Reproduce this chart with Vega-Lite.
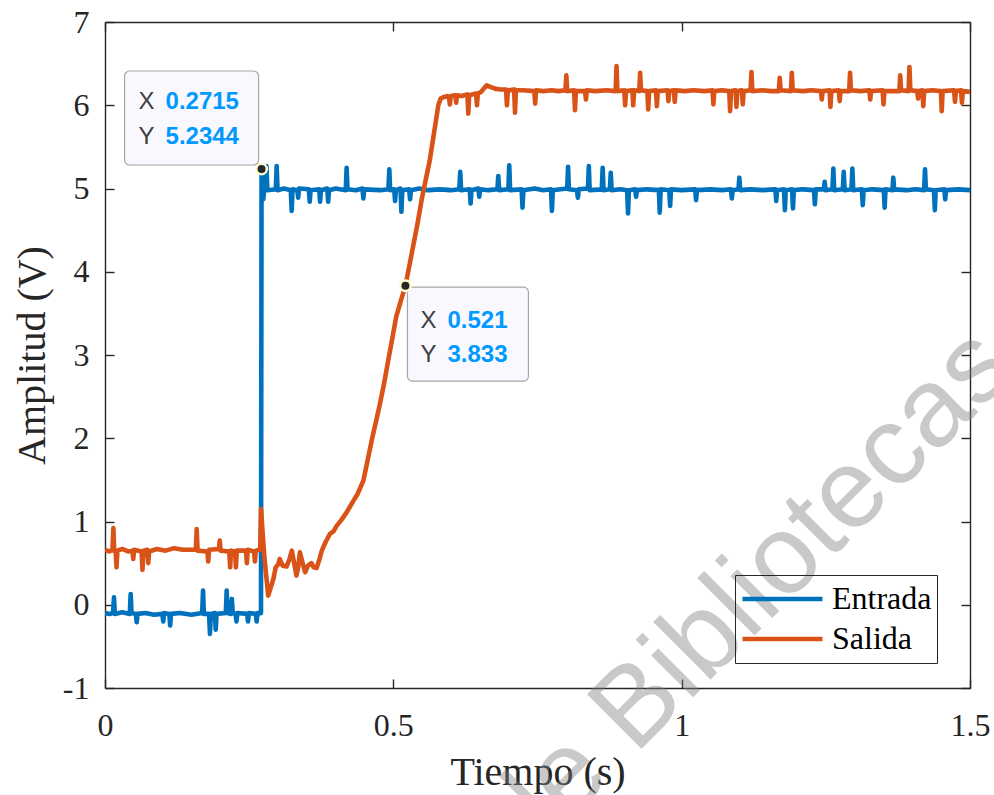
{
  "$schema": "https://vega.github.io/schema/vega-lite/v6.json",
  "width": 865,
  "height": 666,
  "autosize": "none",
  "padding": {"left": 105, "top": 22, "right": 24, "bottom": 107},
  "background": "white",
  "config": {
    "view": {"stroke": null},
    "axis": {
      "grid": false,
      "domainColor": "#262626",
      "domainWidth": 1.4,
      "tickColor": "#262626",
      "tickWidth": 1.4,
      "tickSize": -9,
      "labelFont": "Liberation Serif",
      "labelFontSize": 32,
      "labelColor": "#262626",
      "titleFont": "Liberation Serif",
      "titleFontSize": 40,
      "titleFontWeight": "normal",
      "titleColor": "#262626"
    }
  },
  "datasets": {
    "signals": [
      {"serie":"Entrada","t":0.000,"v":-0.10},{"serie":"Entrada","t":0.008,"v":-0.11},{"serie":"Entrada","t":0.014,"v":-0.10},{"serie":"Entrada","t":0.0156,"v":0.09},{"serie":"Entrada","t":0.017,"v":-0.11},
      {"serie":"Entrada","t":0.030,"v":-0.09},{"serie":"Entrada","t":0.043,"v":-0.11},{"serie":"Entrada","t":0.0445,"v":0.13},{"serie":"Entrada","t":0.046,"v":-0.10},{"serie":"Entrada","t":0.0535,"v":-0.11},
      {"serie":"Entrada","t":0.055,"v":-0.21},{"serie":"Entrada","t":0.0565,"v":-0.11},{"serie":"Entrada","t":0.070,"v":-0.10},{"serie":"Entrada","t":0.085,"v":-0.12},{"serie":"Entrada","t":0.0995,"v":-0.11},
      {"serie":"Entrada","t":0.101,"v":-0.20},{"serie":"Entrada","t":0.1025,"v":-0.10},{"serie":"Entrada","t":0.1115,"v":-0.11},{"serie":"Entrada","t":0.113,"v":-0.25},{"serie":"Entrada","t":0.1145,"v":-0.11},
      {"serie":"Entrada","t":0.130,"v":-0.10},{"serie":"Entrada","t":0.150,"v":-0.12},{"serie":"Entrada","t":0.1685,"v":-0.10},{"serie":"Entrada","t":0.170,"v":0.17},{"serie":"Entrada","t":0.1715,"v":-0.11},
      {"serie":"Entrada","t":0.1805,"v":-0.11},{"serie":"Entrada","t":0.182,"v":-0.35},{"serie":"Entrada","t":0.1835,"v":-0.11},{"serie":"Entrada","t":0.1905,"v":-0.10},{"serie":"Entrada","t":0.192,"v":-0.30},
      {"serie":"Entrada","t":0.1935,"v":-0.11},{"serie":"Entrada","t":0.2095,"v":-0.10},{"serie":"Entrada","t":0.211,"v":0.17},{"serie":"Entrada","t":0.2125,"v":-0.10},{"serie":"Entrada","t":0.2185,"v":-0.11},
      {"serie":"Entrada","t":0.220,"v":0.07},{"serie":"Entrada","t":0.2215,"v":-0.10},{"serie":"Entrada","t":0.2265,"v":-0.11},{"serie":"Entrada","t":0.228,"v":-0.20},{"serie":"Entrada","t":0.2295,"v":-0.10},
      {"serie":"Entrada","t":0.2465,"v":-0.11},{"serie":"Entrada","t":0.248,"v":-0.20},{"serie":"Entrada","t":0.2495,"v":-0.10},{"serie":"Entrada","t":0.2615,"v":-0.11},{"serie":"Entrada","t":0.263,"v":-0.20},
      {"serie":"Entrada","t":0.2645,"v":-0.10},{"serie":"Entrada","t":0.2705,"v":-0.10},{"serie":"Entrada","t":0.2715,"v":5.2344},{"serie":"Entrada","t":0.273,"v":4.99},{"serie":"Entrada","t":0.2745,"v":4.87},
      {"serie":"Entrada","t":0.276,"v":4.99},{"serie":"Entrada","t":0.2785,"v":5.00},{"serie":"Entrada","t":0.280,"v":5.27},{"serie":"Entrada","t":0.2815,"v":4.98},{"serie":"Entrada","t":0.2962,"v":4.99},
      {"serie":"Entrada","t":0.2977,"v":5.27},{"serie":"Entrada","t":0.2992,"v":4.98},{"serie":"Entrada","t":0.310,"v":5.00},{"serie":"Entrada","t":0.3222,"v":4.98},{"serie":"Entrada","t":0.3237,"v":4.73},
      {"serie":"Entrada","t":0.3252,"v":4.99},{"serie":"Entrada","t":0.3335,"v":4.98},{"serie":"Entrada","t":0.335,"v":4.89},{"serie":"Entrada","t":0.3365,"v":5.00},{"serie":"Entrada","t":0.3535,"v":4.99},
      {"serie":"Entrada","t":0.355,"v":4.84},{"serie":"Entrada","t":0.3565,"v":4.98},{"serie":"Entrada","t":0.3715,"v":4.99},{"serie":"Entrada","t":0.373,"v":4.84},{"serie":"Entrada","t":0.3745,"v":4.98},
      {"serie":"Entrada","t":0.3855,"v":5.00},{"serie":"Entrada","t":0.387,"v":4.84},{"serie":"Entrada","t":0.3885,"v":4.98},{"serie":"Entrada","t":0.400,"v":5.00},{"serie":"Entrada","t":0.4175,"v":4.98},
      {"serie":"Entrada","t":0.419,"v":5.25},{"serie":"Entrada","t":0.4205,"v":4.99},{"serie":"Entrada","t":0.435,"v":4.98},{"serie":"Entrada","t":0.4465,"v":5.00},{"serie":"Entrada","t":0.448,"v":4.88},
      {"serie":"Entrada","t":0.4495,"v":4.99},{"serie":"Entrada","t":0.4775,"v":4.98},{"serie":"Entrada","t":0.4915,"v":4.99},{"serie":"Entrada","t":0.493,"v":5.23},{"serie":"Entrada","t":0.4945,"v":4.98},
      {"serie":"Entrada","t":0.5015,"v":4.99},{"serie":"Entrada","t":0.503,"v":4.85},{"serie":"Entrada","t":0.5045,"v":4.98},{"serie":"Entrada","t":0.5125,"v":5.00},{"serie":"Entrada","t":0.514,"v":4.72},
      {"serie":"Entrada","t":0.5155,"v":4.98},{"serie":"Entrada","t":0.5275,"v":4.99},{"serie":"Entrada","t":0.529,"v":4.87},{"serie":"Entrada","t":0.5305,"v":4.98},{"serie":"Entrada","t":0.545,"v":5.00},
      {"serie":"Entrada","t":0.560,"v":4.98},{"serie":"Entrada","t":0.580,"v":4.99},{"serie":"Entrada","t":0.600,"v":4.98},{"serie":"Entrada","t":0.6145,"v":4.99},{"serie":"Entrada","t":0.616,"v":5.20},
      {"serie":"Entrada","t":0.6175,"v":4.98},{"serie":"Entrada","t":0.6325,"v":4.99},{"serie":"Entrada","t":0.634,"v":4.82},{"serie":"Entrada","t":0.6355,"v":4.98},{"serie":"Entrada","t":0.6475,"v":5.00},
      {"serie":"Entrada","t":0.649,"v":4.90},{"serie":"Entrada","t":0.6505,"v":4.99},{"serie":"Entrada","t":0.665,"v":4.98},{"serie":"Entrada","t":0.6805,"v":4.99},{"serie":"Entrada","t":0.682,"v":5.15},
      {"serie":"Entrada","t":0.6835,"v":4.98},{"serie":"Entrada","t":0.6995,"v":4.99},{"serie":"Entrada","t":0.701,"v":5.28},{"serie":"Entrada","t":0.7025,"v":4.98},{"serie":"Entrada","t":0.7225,"v":4.99},
      {"serie":"Entrada","t":0.724,"v":4.77},{"serie":"Entrada","t":0.7255,"v":4.98},{"serie":"Entrada","t":0.745,"v":5.00},{"serie":"Entrada","t":0.760,"v":4.98},{"serie":"Entrada","t":0.7735,"v":4.99},
      {"serie":"Entrada","t":0.775,"v":4.73},{"serie":"Entrada","t":0.7765,"v":4.98},{"serie":"Entrada","t":0.790,"v":4.99},{"serie":"Entrada","t":0.8015,"v":5.00},{"serie":"Entrada","t":0.803,"v":5.26},
      {"serie":"Entrada","t":0.8045,"v":4.99},{"serie":"Entrada","t":0.8185,"v":4.98},{"serie":"Entrada","t":0.820,"v":4.89},{"serie":"Entrada","t":0.8215,"v":4.99},{"serie":"Entrada","t":0.8375,"v":5.00},
      {"serie":"Entrada","t":0.839,"v":5.27},{"serie":"Entrada","t":0.8405,"v":4.98},{"serie":"Entrada","t":0.8615,"v":4.99},{"serie":"Entrada","t":0.863,"v":5.25},{"serie":"Entrada","t":0.8645,"v":4.98},
      {"serie":"Entrada","t":0.8755,"v":4.99},{"serie":"Entrada","t":0.877,"v":5.19},{"serie":"Entrada","t":0.8785,"v":4.98},{"serie":"Entrada","t":0.8935,"v":4.99},{"serie":"Entrada","t":0.9055,"v":4.98},
      {"serie":"Entrada","t":0.907,"v":4.70},{"serie":"Entrada","t":0.9085,"v":4.98},{"serie":"Entrada","t":0.9195,"v":4.99},{"serie":"Entrada","t":0.921,"v":4.90},{"serie":"Entrada","t":0.9225,"v":4.98},
      {"serie":"Entrada","t":0.940,"v":4.99},{"serie":"Entrada","t":0.9605,"v":4.98},{"serie":"Entrada","t":0.962,"v":4.71},{"serie":"Entrada","t":0.9635,"v":4.99},{"serie":"Entrada","t":0.9785,"v":4.98},
      {"serie":"Entrada","t":0.980,"v":4.79},{"serie":"Entrada","t":0.9815,"v":4.99},{"serie":"Entrada","t":1.000,"v":4.98},{"serie":"Entrada","t":1.0235,"v":4.99},{"serie":"Entrada","t":1.025,"v":4.86},
      {"serie":"Entrada","t":1.0265,"v":4.98},{"serie":"Entrada","t":1.050,"v":4.99},{"serie":"Entrada","t":1.070,"v":4.98},{"serie":"Entrada","t":1.0855,"v":4.99},{"serie":"Entrada","t":1.087,"v":4.88},
      {"serie":"Entrada","t":1.0885,"v":4.98},{"serie":"Entrada","t":1.0985,"v":4.99},{"serie":"Entrada","t":1.100,"v":5.13},{"serie":"Entrada","t":1.1015,"v":4.98},{"serie":"Entrada","t":1.120,"v":4.99},
      {"serie":"Entrada","t":1.140,"v":4.98},{"serie":"Entrada","t":1.1625,"v":4.99},{"serie":"Entrada","t":1.164,"v":4.85},{"serie":"Entrada","t":1.1655,"v":4.98},{"serie":"Entrada","t":1.1775,"v":4.99},
      {"serie":"Entrada","t":1.179,"v":4.74},{"serie":"Entrada","t":1.1805,"v":4.98},{"serie":"Entrada","t":1.1915,"v":4.99},{"serie":"Entrada","t":1.193,"v":4.76},{"serie":"Entrada","t":1.1945,"v":4.98},
      {"serie":"Entrada","t":1.210,"v":4.99},{"serie":"Entrada","t":1.2295,"v":4.98},{"serie":"Entrada","t":1.231,"v":4.81},{"serie":"Entrada","t":1.2325,"v":4.99},{"serie":"Entrada","t":1.2465,"v":4.99},
      {"serie":"Entrada","t":1.248,"v":5.08},{"serie":"Entrada","t":1.2495,"v":4.98},{"serie":"Entrada","t":1.2615,"v":4.99},{"serie":"Entrada","t":1.263,"v":5.24},{"serie":"Entrada","t":1.2645,"v":4.98},
      {"serie":"Entrada","t":1.2795,"v":4.99},{"serie":"Entrada","t":1.281,"v":5.20},{"serie":"Entrada","t":1.2825,"v":4.98},{"serie":"Entrada","t":1.2945,"v":4.99},{"serie":"Entrada","t":1.296,"v":5.24},
      {"serie":"Entrada","t":1.2975,"v":4.98},{"serie":"Entrada","t":1.3125,"v":4.99},{"serie":"Entrada","t":1.314,"v":4.80},{"serie":"Entrada","t":1.3155,"v":4.98},{"serie":"Entrada","t":1.330,"v":4.99},
      {"serie":"Entrada","t":1.3505,"v":4.98},{"serie":"Entrada","t":1.352,"v":4.77},{"serie":"Entrada","t":1.3535,"v":4.99},{"serie":"Entrada","t":1.3655,"v":4.98},{"serie":"Entrada","t":1.367,"v":5.13},
      {"serie":"Entrada","t":1.3685,"v":4.99},{"serie":"Entrada","t":1.390,"v":4.98},{"serie":"Entrada","t":1.405,"v":4.99},{"serie":"Entrada","t":1.4205,"v":4.98},{"serie":"Entrada","t":1.422,"v":5.23},
      {"serie":"Entrada","t":1.4235,"v":4.99},{"serie":"Entrada","t":1.4375,"v":4.98},{"serie":"Entrada","t":1.439,"v":4.74},{"serie":"Entrada","t":1.4405,"v":4.98},{"serie":"Entrada","t":1.4555,"v":4.99},
      {"serie":"Entrada","t":1.457,"v":4.87},{"serie":"Entrada","t":1.4585,"v":4.98},{"serie":"Entrada","t":1.480,"v":4.99},{"serie":"Entrada","t":1.500,"v":4.98},

      {"serie":"Salida","t":0.000,"v":0.66},{"serie":"Salida","t":0.007,"v":0.64},{"serie":"Salida","t":0.013,"v":0.66},{"serie":"Salida","t":0.0145,"v":0.92},{"serie":"Salida","t":0.016,"v":0.65},
      {"serie":"Salida","t":0.0185,"v":0.64},{"serie":"Salida","t":0.020,"v":0.45},{"serie":"Salida","t":0.0215,"v":0.65},{"serie":"Salida","t":0.030,"v":0.67},{"serie":"Salida","t":0.040,"v":0.64},
      {"serie":"Salida","t":0.0475,"v":0.65},{"serie":"Salida","t":0.049,"v":0.55},{"serie":"Salida","t":0.0505,"v":0.66},{"serie":"Salida","t":0.0635,"v":0.64},{"serie":"Salida","t":0.065,"v":0.42},
      {"serie":"Salida","t":0.0665,"v":0.65},{"serie":"Salida","t":0.0735,"v":0.66},{"serie":"Salida","t":0.075,"v":0.50},{"serie":"Salida","t":0.0765,"v":0.64},{"serie":"Salida","t":0.090,"v":0.67},
      {"serie":"Salida","t":0.105,"v":0.65},{"serie":"Salida","t":0.120,"v":0.68},{"serie":"Salida","t":0.135,"v":0.66},{"serie":"Salida","t":0.1575,"v":0.66},{"serie":"Salida","t":0.159,"v":0.91},
      {"serie":"Salida","t":0.1605,"v":0.65},{"serie":"Salida","t":0.1775,"v":0.64},{"serie":"Salida","t":0.179,"v":0.52},{"serie":"Salida","t":0.1805,"v":0.66},{"serie":"Salida","t":0.1975,"v":0.67},
      {"serie":"Salida","t":0.199,"v":0.77},{"serie":"Salida","t":0.2005,"v":0.65},{"serie":"Salida","t":0.2155,"v":0.64},{"serie":"Salida","t":0.217,"v":0.45},{"serie":"Salida","t":0.2185,"v":0.65},
      {"serie":"Salida","t":0.2255,"v":0.64},{"serie":"Salida","t":0.227,"v":0.45},{"serie":"Salida","t":0.2285,"v":0.65},{"serie":"Salida","t":0.2445,"v":0.65},{"serie":"Salida","t":0.246,"v":0.50},
      {"serie":"Salida","t":0.2475,"v":0.66},{"serie":"Salida","t":0.2585,"v":0.64},{"serie":"Salida","t":0.260,"v":0.52},{"serie":"Salida","t":0.2615,"v":0.65},{"serie":"Salida","t":0.269,"v":0.66},
      {"serie":"Salida","t":0.2705,"v":1.15},{"serie":"Salida","t":0.276,"v":0.60},{"serie":"Salida","t":0.283,"v":0.11},{"serie":"Salida","t":0.288,"v":0.22},{"serie":"Salida","t":0.292,"v":0.31},
      {"serie":"Salida","t":0.296,"v":0.45},{"serie":"Salida","t":0.300,"v":0.48},{"serie":"Salida","t":0.303,"v":0.55},{"serie":"Salida","t":0.308,"v":0.47},{"serie":"Salida","t":0.315,"v":0.46},
      {"serie":"Salida","t":0.320,"v":0.55},{"serie":"Salida","t":0.324,"v":0.65},{"serie":"Salida","t":0.328,"v":0.50},{"serie":"Salida","t":0.332,"v":0.35},{"serie":"Salida","t":0.335,"v":0.45},
      {"serie":"Salida","t":0.338,"v":0.63},{"serie":"Salida","t":0.342,"v":0.52},{"serie":"Salida","t":0.347,"v":0.39},{"serie":"Salida","t":0.352,"v":0.47},{"serie":"Salida","t":0.358,"v":0.50},
      {"serie":"Salida","t":0.362,"v":0.45},{"serie":"Salida","t":0.367,"v":0.44},{"serie":"Salida","t":0.372,"v":0.55},{"serie":"Salida","t":0.376,"v":0.65},{"serie":"Salida","t":0.383,"v":0.76},
      {"serie":"Salida","t":0.390,"v":0.85},{"serie":"Salida","t":0.396,"v":0.88},{"serie":"Salida","t":0.402,"v":0.95},{"serie":"Salida","t":0.410,"v":1.02},{"serie":"Salida","t":0.419,"v":1.11},
      {"serie":"Salida","t":0.425,"v":1.18},{"serie":"Salida","t":0.431,"v":1.25},{"serie":"Salida","t":0.438,"v":1.33},{"serie":"Salida","t":0.448,"v":1.49},{"serie":"Salida","t":0.455,"v":1.72},
      {"serie":"Salida","t":0.463,"v":1.99},{"serie":"Salida","t":0.470,"v":2.20},{"serie":"Salida","t":0.477,"v":2.42},{"serie":"Salida","t":0.484,"v":2.66},{"serie":"Salida","t":0.491,"v":2.93},
      {"serie":"Salida","t":0.498,"v":3.19},{"serie":"Salida","t":0.505,"v":3.46},{"serie":"Salida","t":0.513,"v":3.65},{"serie":"Salida","t":0.521,"v":3.833},{"serie":"Salida","t":0.528,"v":4.08},
      {"serie":"Salida","t":0.535,"v":4.33},{"serie":"Salida","t":0.542,"v":4.58},{"serie":"Salida","t":0.549,"v":4.86},{"serie":"Salida","t":0.556,"v":5.10},{"serie":"Salida","t":0.563,"v":5.33},
      {"serie":"Salida","t":0.569,"v":5.60},{"serie":"Salida","t":0.574,"v":5.82},{"serie":"Salida","t":0.578,"v":6.00},{"serie":"Salida","t":0.582,"v":6.08},{"serie":"Salida","t":0.588,"v":6.10},
      {"serie":"Salida","t":0.593,"v":6.11},{"serie":"Salida","t":0.5965,"v":6.10},{"serie":"Salida","t":0.598,"v":6.01},{"serie":"Salida","t":0.5995,"v":6.11},{"serie":"Salida","t":0.6075,"v":6.12},
      {"serie":"Salida","t":0.609,"v":6.03},{"serie":"Salida","t":0.6105,"v":6.12},{"serie":"Salida","t":0.618,"v":6.11},{"serie":"Salida","t":0.6285,"v":6.13},{"serie":"Salida","t":0.630,"v":5.90},
      {"serie":"Salida","t":0.6315,"v":6.12},{"serie":"Salida","t":0.6435,"v":6.14},{"serie":"Salida","t":0.645,"v":6.00},{"serie":"Salida","t":0.6465,"v":6.14},{"serie":"Salida","t":0.652,"v":6.16},
      {"serie":"Salida","t":0.657,"v":6.20},{"serie":"Salida","t":0.662,"v":6.24},{"serie":"Salida","t":0.668,"v":6.22},{"serie":"Salida","t":0.676,"v":6.20},{"serie":"Salida","t":0.686,"v":6.19},
      {"serie":"Salida","t":0.6955,"v":6.19},{"serie":"Salida","t":0.697,"v":6.00},{"serie":"Salida","t":0.6985,"v":6.18},{"serie":"Salida","t":0.7095,"v":6.19},{"serie":"Salida","t":0.711,"v":5.91},
      {"serie":"Salida","t":0.7125,"v":6.18},{"serie":"Salida","t":0.725,"v":6.18},{"serie":"Salida","t":0.7445,"v":6.17},{"serie":"Salida","t":0.746,"v":6.02},{"serie":"Salida","t":0.7475,"v":6.18},
      {"serie":"Salida","t":0.760,"v":6.17},{"serie":"Salida","t":0.775,"v":6.18},{"serie":"Salida","t":0.786,"v":6.17},{"serie":"Salida","t":0.7985,"v":6.18},{"serie":"Salida","t":0.800,"v":6.36},
      {"serie":"Salida","t":0.8015,"v":6.17},{"serie":"Salida","t":0.8135,"v":6.18},{"serie":"Salida","t":0.815,"v":5.94},{"serie":"Salida","t":0.8165,"v":6.17},{"serie":"Salida","t":0.8325,"v":6.17},
      {"serie":"Salida","t":0.834,"v":6.07},{"serie":"Salida","t":0.8355,"v":6.18},{"serie":"Salida","t":0.850,"v":6.17},{"serie":"Salida","t":0.870,"v":6.18},{"serie":"Salida","t":0.8855,"v":6.17},
      {"serie":"Salida","t":0.887,"v":6.47},{"serie":"Salida","t":0.8885,"v":6.17},{"serie":"Salida","t":0.9005,"v":6.18},{"serie":"Salida","t":0.902,"v":6.00},{"serie":"Salida","t":0.9035,"v":6.17},
      {"serie":"Salida","t":0.9145,"v":6.18},{"serie":"Salida","t":0.916,"v":6.00},{"serie":"Salida","t":0.9175,"v":6.18},{"serie":"Salida","t":0.9265,"v":6.17},{"serie":"Salida","t":0.928,"v":6.39},
      {"serie":"Salida","t":0.9295,"v":6.18},{"serie":"Salida","t":0.9405,"v":6.17},{"serie":"Salida","t":0.942,"v":5.95},{"serie":"Salida","t":0.9435,"v":6.17},{"serie":"Salida","t":0.9555,"v":6.18},
      {"serie":"Salida","t":0.957,"v":5.99},{"serie":"Salida","t":0.9585,"v":6.17},{"serie":"Salida","t":0.9755,"v":6.18},{"serie":"Salida","t":0.977,"v":6.05},{"serie":"Salida","t":0.9785,"v":6.17},
      {"serie":"Salida","t":0.9865,"v":6.18},{"serie":"Salida","t":0.988,"v":6.04},{"serie":"Salida","t":0.9895,"v":6.18},{"serie":"Salida","t":1.005,"v":6.17},{"serie":"Salida","t":1.020,"v":6.18},
      {"serie":"Salida","t":1.040,"v":6.17},{"serie":"Salida","t":1.0535,"v":6.18},{"serie":"Salida","t":1.055,"v":6.01},{"serie":"Salida","t":1.0565,"v":6.17},{"serie":"Salida","t":1.070,"v":6.18},
      {"serie":"Salida","t":1.0825,"v":6.17},{"serie":"Salida","t":1.084,"v":5.93},{"serie":"Salida","t":1.0855,"v":6.17},{"serie":"Salida","t":1.0935,"v":6.18},{"serie":"Salida","t":1.095,"v":5.98},
      {"serie":"Salida","t":1.0965,"v":6.17},{"serie":"Salida","t":1.1045,"v":6.18},{"serie":"Salida","t":1.106,"v":6.01},{"serie":"Salida","t":1.1075,"v":6.17},{"serie":"Salida","t":1.1195,"v":6.18},
      {"serie":"Salida","t":1.121,"v":6.40},{"serie":"Salida","t":1.1225,"v":6.17},{"serie":"Salida","t":1.140,"v":6.18},{"serie":"Salida","t":1.155,"v":6.17},{"serie":"Salida","t":1.1685,"v":6.17},
      {"serie":"Salida","t":1.170,"v":6.33},{"serie":"Salida","t":1.1715,"v":6.18},{"serie":"Salida","t":1.1895,"v":6.17},{"serie":"Salida","t":1.191,"v":6.39},{"serie":"Salida","t":1.1925,"v":6.18},
      {"serie":"Salida","t":1.210,"v":6.17},{"serie":"Salida","t":1.225,"v":6.18},{"serie":"Salida","t":1.2415,"v":6.17},{"serie":"Salida","t":1.243,"v":6.07},{"serie":"Salida","t":1.2445,"v":6.17},
      {"serie":"Salida","t":1.2565,"v":6.18},{"serie":"Salida","t":1.258,"v":5.98},{"serie":"Salida","t":1.2595,"v":6.17},{"serie":"Salida","t":1.2725,"v":6.18},{"serie":"Salida","t":1.274,"v":6.05},
      {"serie":"Salida","t":1.2755,"v":6.17},{"serie":"Salida","t":1.2905,"v":6.17},{"serie":"Salida","t":1.292,"v":6.39},{"serie":"Salida","t":1.2935,"v":6.18},{"serie":"Salida","t":1.310,"v":6.17},
      {"serie":"Salida","t":1.3255,"v":6.18},{"serie":"Salida","t":1.327,"v":6.07},{"serie":"Salida","t":1.3285,"v":6.17},{"serie":"Salida","t":1.3485,"v":6.18},{"serie":"Salida","t":1.350,"v":6.01},
      {"serie":"Salida","t":1.3515,"v":6.17},{"serie":"Salida","t":1.3775,"v":6.17},{"serie":"Salida","t":1.379,"v":6.36},{"serie":"Salida","t":1.3805,"v":6.18},{"serie":"Salida","t":1.3935,"v":6.17},
      {"serie":"Salida","t":1.395,"v":6.46},{"serie":"Salida","t":1.3965,"v":6.18},{"serie":"Salida","t":1.4085,"v":6.17},{"serie":"Salida","t":1.410,"v":6.08},{"serie":"Salida","t":1.4115,"v":6.17},
      {"serie":"Salida","t":1.4175,"v":6.18},{"serie":"Salida","t":1.419,"v":5.99},{"serie":"Salida","t":1.4205,"v":6.17},{"serie":"Salida","t":1.435,"v":6.18},{"serie":"Salida","t":1.4495,"v":6.17},
      {"serie":"Salida","t":1.451,"v":5.93},{"serie":"Salida","t":1.4525,"v":6.17},{"serie":"Salida","t":1.4725,"v":6.18},{"serie":"Salida","t":1.474,"v":6.04},{"serie":"Salida","t":1.4755,"v":6.17},
      {"serie":"Salida","t":1.4845,"v":6.18},{"serie":"Salida","t":1.486,"v":6.03},{"serie":"Salida","t":1.4875,"v":6.17},{"serie":"Salida","t":1.500,"v":6.16}
    ],
    "tips": [
      {"tip":"A","t":0.2715,"v":5.2344,"xs":"0.2715","ys":"5.2344"},
      {"tip":"B","t":0.521,"v":3.833,"xs":"0.521","ys":"3.833"}
    ]
  },
  "resolve": {"axis": {"x": "independent", "y": "independent"}},
  "layer": [
    {
      "data": {"name": "signals"},
      "mark": {"type": "line", "strokeWidth": 4.6, "strokeJoin": "round", "clip": true},
      "encoding": {
        "x": {"field": "t", "type": "quantitative",
              "scale": {"domain": [0, 1.5], "nice": false, "zero": false},
              "axis": {"orient": "bottom", "values": [0, 0.5, 1, 1.5], "format": "~g", "labelPadding": 31, "title": "Tiempo (s)", "titlePadding": 11, "labelFlush": false}},
        "y": {"field": "v", "type": "quantitative",
              "scale": {"domain": [-1, 7], "nice": false, "zero": false},
              "axis": {"orient": "left", "values": [-1, 0, 1, 2, 3, 4, 5, 6, 7], "labelExpr": "'' + datum.value", "labelPadding": 25, "title": "Amplitud (V)", "titlePadding": 10, "labelFlush": false}},
        "color": {"field": "serie", "type": "nominal",
                  "scale": {"domain": ["Entrada", "Salida"], "range": ["#0072BD", "#D95319"]},
                  "legend": {
                    "orient": "none", "legendX": 630, "legendY": 553, "title": null,
                    "symbolType": "stroke", "symbolSize": 6400, "symbolStrokeWidth": 4.6,
                    "clipHeight": 38, "rowPadding": 2, "padding": 5, "labelOffset": 7,
                    "labelFont": "Liberation Serif", "labelFontSize": 32, "labelColor": "#000000", "labelLimit": 300,
                    "strokeColor": "#262626", "fillColor": "transparent", "cornerRadius": 0
                  }}
      }
    },
    {
      "data": {"name": "tips"},
      "transform": [{"filter": "datum.tip == 'A'"}],
      "mark": {"type": "rect", "fill": "#f8f8fe", "stroke": "#a6a6a6", "strokeWidth": 1.2, "cornerRadius": 5,
               "xOffset": -137, "x2Offset": -3, "yOffset": -98, "y2Offset": -4},
      "encoding": {
        "x": {"field": "t", "type": "quantitative", "axis": null},
        "x2": {"field": "t"},
        "y": {"field": "v", "type": "quantitative", "axis": null},
        "y2": {"field": "v"}
      }
    },
    {
      "data": {"name": "tips"},
      "transform": [{"filter": "datum.tip == 'B'"}],
      "mark": {"type": "rect", "fill": "#f8f8fe", "stroke": "#a6a6a6", "strokeWidth": 1.2, "cornerRadius": 5,
               "xOffset": 2, "x2Offset": 123, "yOffset": 1.5, "y2Offset": 95.5},
      "encoding": {
        "x": {"field": "t", "type": "quantitative", "axis": null},
        "x2": {"field": "t"},
        "y": {"field": "v", "type": "quantitative", "axis": null},
        "y2": {"field": "v"}
      }
    },
    {
      "data": {"name": "tips"},
      "mark": {"type": "point", "filled": true, "fill": "#262626", "opacity": 1, "size": 110, "stroke": "#fdfbcf", "strokeWidth": 2.5, "strokeOpacity": 1},
      "encoding": {
        "x": {"field": "t", "type": "quantitative",
              "axis": {"orient": "top", "values": [0, 0.5, 1, 1.5], "labels": false, "title": null}},
        "y": {"field": "v", "type": "quantitative",
              "axis": {"orient": "right", "values": [-1, 0, 1, 2, 3, 4, 5, 6, 7], "labels": false, "title": null}}
      }
    },
    {
      "data": {"name": "tips"},
      "transform": [{"filter": "datum.tip == 'A'"}],
      "mark": {"type": "text", "text": "X", "align": "left", "baseline": "middle", "dx": -123, "dy": -67, "font": "Liberation Sans", "fontSize": 24, "fill": "#404040"},
      "encoding": {"x": {"field": "t", "type": "quantitative", "axis": null}, "y": {"field": "v", "type": "quantitative", "axis": null}}
    },
    {
      "data": {"name": "tips"},
      "transform": [{"filter": "datum.tip == 'A'"}],
      "mark": {"type": "text", "text": "Y", "align": "left", "baseline": "middle", "dx": -123, "dy": -32, "font": "Liberation Sans", "fontSize": 24, "fill": "#404040"},
      "encoding": {"x": {"field": "t", "type": "quantitative", "axis": null}, "y": {"field": "v", "type": "quantitative", "axis": null}}
    },
    {
      "data": {"name": "tips"},
      "transform": [{"filter": "datum.tip == 'A'"}],
      "mark": {"type": "text", "align": "left", "baseline": "middle", "dx": -96, "dy": -67, "font": "Liberation Sans", "fontSize": 24, "fontWeight": "bold", "fill": "#0099ff"},
      "encoding": {"x": {"field": "t", "type": "quantitative", "axis": null}, "y": {"field": "v", "type": "quantitative", "axis": null}, "text": {"field": "xs"}}
    },
    {
      "data": {"name": "tips"},
      "transform": [{"filter": "datum.tip == 'A'"}],
      "mark": {"type": "text", "align": "left", "baseline": "middle", "dx": -96, "dy": -32, "font": "Liberation Sans", "fontSize": 24, "fontWeight": "bold", "fill": "#0099ff"},
      "encoding": {"x": {"field": "t", "type": "quantitative", "axis": null}, "y": {"field": "v", "type": "quantitative", "axis": null}, "text": {"field": "ys"}}
    },
    {
      "data": {"name": "tips"},
      "transform": [{"filter": "datum.tip == 'B'"}],
      "mark": {"type": "text", "text": "X", "align": "left", "baseline": "middle", "dx": 15, "dy": 35, "font": "Liberation Sans", "fontSize": 24, "fill": "#404040"},
      "encoding": {"x": {"field": "t", "type": "quantitative", "axis": null}, "y": {"field": "v", "type": "quantitative", "axis": null}}
    },
    {
      "data": {"name": "tips"},
      "transform": [{"filter": "datum.tip == 'B'"}],
      "mark": {"type": "text", "text": "Y", "align": "left", "baseline": "middle", "dx": 15, "dy": 69, "font": "Liberation Sans", "fontSize": 24, "fill": "#404040"},
      "encoding": {"x": {"field": "t", "type": "quantitative", "axis": null}, "y": {"field": "v", "type": "quantitative", "axis": null}}
    },
    {
      "data": {"name": "tips"},
      "transform": [{"filter": "datum.tip == 'B'"}],
      "mark": {"type": "text", "align": "left", "baseline": "middle", "dx": 42, "dy": 35, "font": "Liberation Sans", "fontSize": 24, "fontWeight": "bold", "fill": "#0099ff"},
      "encoding": {"x": {"field": "t", "type": "quantitative", "axis": null}, "y": {"field": "v", "type": "quantitative", "axis": null}, "text": {"field": "xs"}}
    },
    {
      "data": {"name": "tips"},
      "transform": [{"filter": "datum.tip == 'B'"}],
      "mark": {"type": "text", "align": "left", "baseline": "middle", "dx": 42, "dy": 69, "font": "Liberation Sans", "fontSize": 24, "fontWeight": "bold", "fill": "#0099ff"},
      "encoding": {"x": {"field": "t", "type": "quantitative", "axis": null}, "y": {"field": "v", "type": "quantitative", "axis": null}, "text": {"field": "ys"}}
    },
    {
      "data": {"values": [{"wm": "de Bibliotecas"}]},
      "mark": {"type": "text", "align": "left", "baseline": "alphabetic", "angle": -45, "font": "Liberation Sans", "fontSize": 112, "fill": "#7f7f7f", "opacity": 0.42},
      "encoding": {
        "x": {"datum": 0.728, "type": "quantitative", "axis": null},
        "y": {"datum": -3.13, "type": "quantitative", "axis": null},
        "text": {"field": "wm"}
      }
    }
  ]
}
